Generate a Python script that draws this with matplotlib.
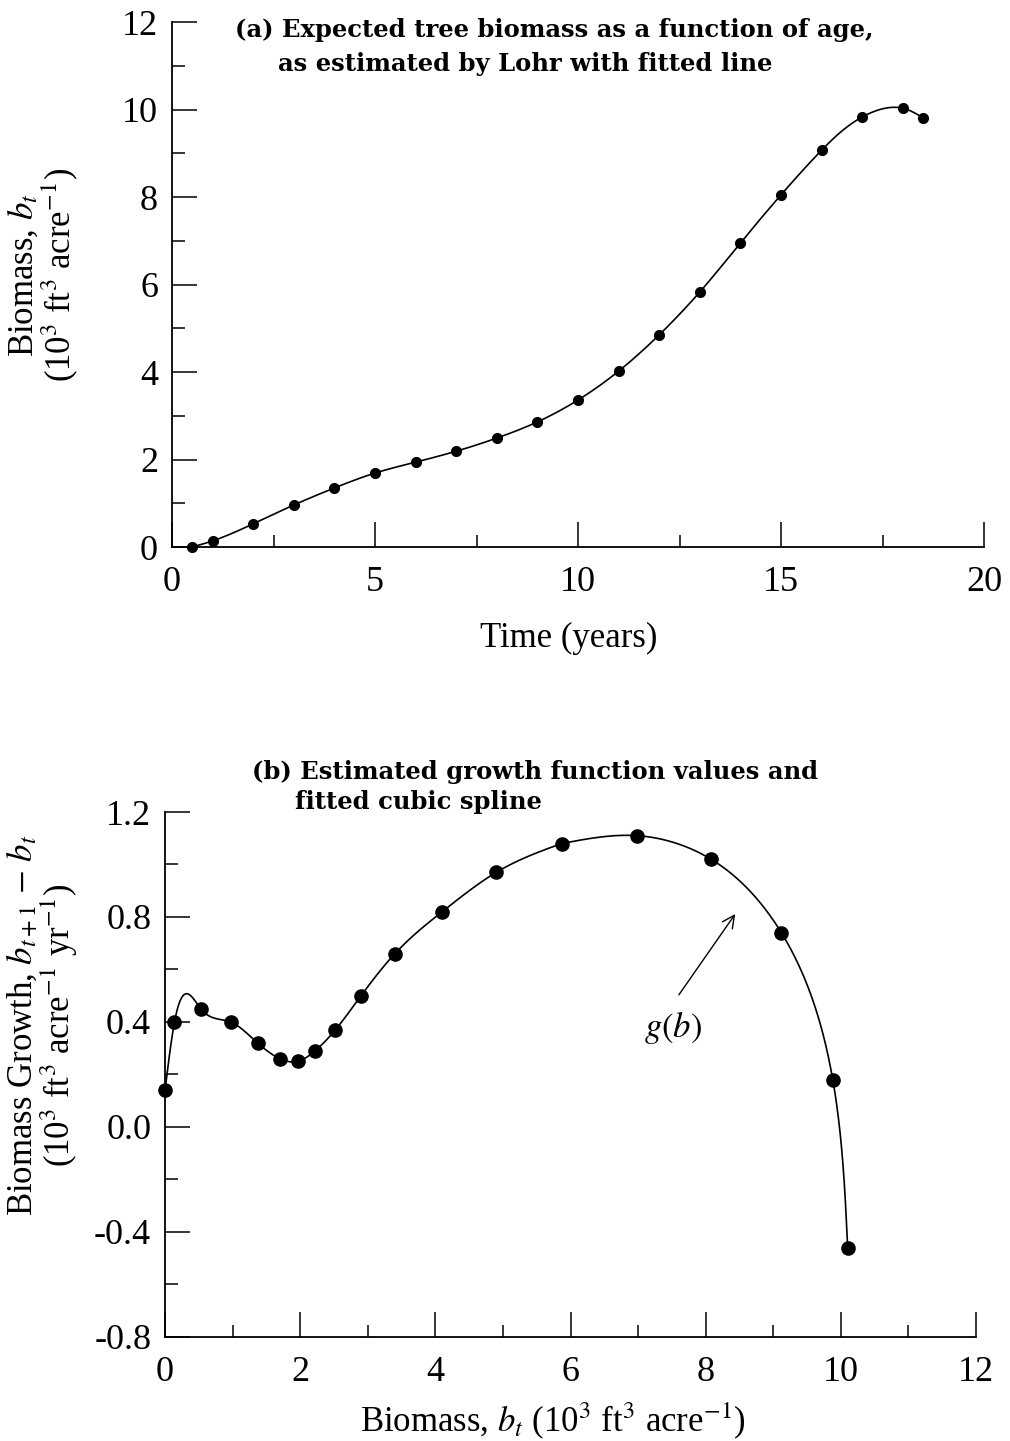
import numpy as np
import matplotlib
matplotlib.use("Agg")
import matplotlib.pyplot as plt
from matplotlib.ticker import MultipleLocator

plt.rcParams['font.family'] = ['Liberation Serif', 'DejaVu Serif']
plt.rcParams['mathtext.fontset'] = 'stix'

# (a) expected biomass by age
age = [0.5, 1, 2, 3, 4, 5, 6, 7, 8, 9, 10, 11, 12, 13, 14, 15, 16, 17, 18, 18.5]
biomass = [0.0, 0.14, 0.53, 0.96, 1.35, 1.69, 1.94, 2.19, 2.49, 2.86, 3.36,
           4.02, 4.85, 5.83, 6.95, 8.05, 9.07, 9.83, 10.03, 9.81]

# (b) growth function values
b_vals = [0.0, 0.14, 0.53, 0.97, 1.37, 1.70, 1.96, 2.22, 2.52, 2.90, 3.40,
          4.10, 4.90, 5.87, 6.98, 8.08, 9.12, 9.88, 10.10]
growth = [0.14, 0.40, 0.45, 0.40, 0.32, 0.26, 0.25, 0.29, 0.37, 0.50, 0.66,
          0.82, 0.97, 1.08, 1.11, 1.02, 0.74, 0.18, -0.46]


def natural_spline(t, y, ts):
    t = np.asarray(t, float)
    y = np.asarray(y, float)
    m = len(t)
    h = np.diff(t)
    A = np.zeros((m, m))
    r = np.zeros(m)
    A[0, 0] = A[-1, -1] = 1.0
    for i in range(1, m - 1):
        A[i, i - 1] = h[i - 1]
        A[i, i] = 2 * (h[i - 1] + h[i])
        A[i, i + 1] = h[i]
        r[i] = 6 * ((y[i + 1] - y[i]) / h[i] - (y[i] - y[i - 1]) / h[i - 1])
    M = np.linalg.solve(A, r)
    k = np.clip(np.searchsorted(t, ts) - 1, 0, m - 2)
    t0 = t[k + 1] - ts
    t1 = ts - t[k]
    hk = h[k]
    return (M[k] * t0**3 + M[k + 1] * t1**3) / (6 * hk) \
        + (y[k] / hk - M[k] * hk / 6) * t0 + (y[k + 1] / hk - M[k + 1] * hk / 6) * t1


def fitted_curve(ax, x, y, n=800):
    # spline parametrised by chord length on screen, mapped back to data
    pts = ax.transData.transform(np.column_stack([x, y]))
    s = np.concatenate([[0], np.cumsum(np.hypot(*np.diff(pts, axis=0).T))])
    ss = np.linspace(0, s[-1], n)
    px = natural_spline(s, pts[:, 0], ss)
    py = natural_spline(s, pts[:, 1], ss)
    d = ax.transData.inverted().transform(np.column_stack([px, py]))
    return d[:, 0], d[:, 1]


def style_axes(ax):
    for s in ['top', 'right']:
        ax.spines[s].set_visible(False)
    for s in ['left', 'bottom']:
        ax.spines[s].set_linewidth(1.3)
    ax.tick_params(which='major', direction='in', length=18, width=1.1, labelsize=26)
    ax.tick_params(which='minor', direction='in', length=9, width=1.1)
    ax.tick_params(axis='x', pad=14)
    ax.tick_params(axis='y', pad=10)


fig = plt.figure(figsize=(10.1, 14.41), dpi=100)

# ---- panel (a)
ax1 = fig.add_axes([0.1703, 0.6204, 0.804, 0.3643])
ax1.set_xlim(0, 20)
ax1.set_ylim(0, 12)
xs, ys = fitted_curve(ax1, age, biomass)
ax1.plot(xs, ys, color='black', lw=1.2, clip_on=False)
ax1.plot(age, biomass, 'o', color='black', ms=7, clip_on=False)
ax1.set_xticks([0, 5, 10, 15, 20])
ax1.set_yticks([0, 2, 4, 6, 8, 10, 12])
ax1.xaxis.set_minor_locator(MultipleLocator(2.5))
ax1.yaxis.set_minor_locator(MultipleLocator(1))
style_axes(ax1)
ax1.set_xlabel('Time (years)', fontsize=25)
ax1.xaxis.set_label_coords(0.488, -0.143)
ax1.set_ylabel('Biomass, $b_t$\n(10$^3$ ft$^3$ acre$^{-1}$)', fontsize=25, linespacing=0.95)
ax1.yaxis.set_label_coords(-0.113, 0.518)

fig.text(235 / 1010, 1 - 30 / 1441, '(a) Expected tree biomass as a function of age,',
         family='DejaVu Serif', weight='bold', fontsize=17.5, va='center')
fig.text(278 / 1010, 1 - 64 / 1441, 'as estimated by Lohr with fitted line',
         family='DejaVu Serif', weight='bold', fontsize=17.5, va='center')

# ---- panel (b)
ax2 = fig.add_axes([0.1634, 0.0722, 0.803, 0.3643])
ax2.set_xlim(0, 12)
ax2.set_ylim(-0.8, 1.2)
# low-biomass part as y(x) spline, high-biomass part parametrised (steep drop)
split = 13
x_lo = np.linspace(b_vals[0], b_vals[split], 400)
y_lo = natural_spline(b_vals[:split + 1], growth[:split + 1], x_lo)
x_hi, y_hi = fitted_curve(ax2, b_vals[split:], growth[split:])
ax2.plot(np.concatenate([x_lo, x_hi]), np.concatenate([y_lo, y_hi]),
         color='black', lw=1.2, clip_on=False)
ax2.plot(b_vals, growth, 'o', color='black', ms=9.5, clip_on=False)
ax2.set_xticks([0, 2, 4, 6, 8, 10, 12])
ax2.set_yticks([1.2, 0.8, 0.4, 0.0, -0.4, -0.8], ['1.2', '0.8', '0.4', '0.0', '-0.4', '-0.8'])
ax2.xaxis.set_minor_locator(MultipleLocator(1))
ax2.set_yticks([1.0, 0.6, 0.2, -0.2, -0.6], minor=True)
style_axes(ax2)
ax2.set_xlabel('Biomass, $b_t$ (10$^3$ ft$^3$ acre$^{-1}$)', fontsize=25)
ax2.xaxis.set_label_coords(0.478, -0.12)
ax2.set_ylabel('Biomass Growth, $b_{t+1}$ $-$ $b_t$\n(10$^3$ ft$^3$ acre$^{-1}$ yr$^{-1}$)',
               fontsize=25, linespacing=0.95)
ax2.yaxis.set_label_coords(-0.105, 0.594)

ax2.annotate('', xy=(8.46, 0.82), xytext=(7.58, 0.495),
             arrowprops=dict(arrowstyle='->', color='black', lw=1.0, mutation_scale=22))
ax2.text(7.51, 0.377, '$g(b)$', fontsize=25, ha='center', va='center')

fig.text(252 / 1010, 1 - 772 / 1441, '(b) Estimated growth function values and',
         family='DejaVu Serif', weight='bold', fontsize=17.5, va='center')
fig.text(295 / 1010, 1 - 802 / 1441, 'fitted cubic spline',
         family='DejaVu Serif', weight='bold', fontsize=17.5, va='center')

fig.savefig('out.png', dpi=100)
